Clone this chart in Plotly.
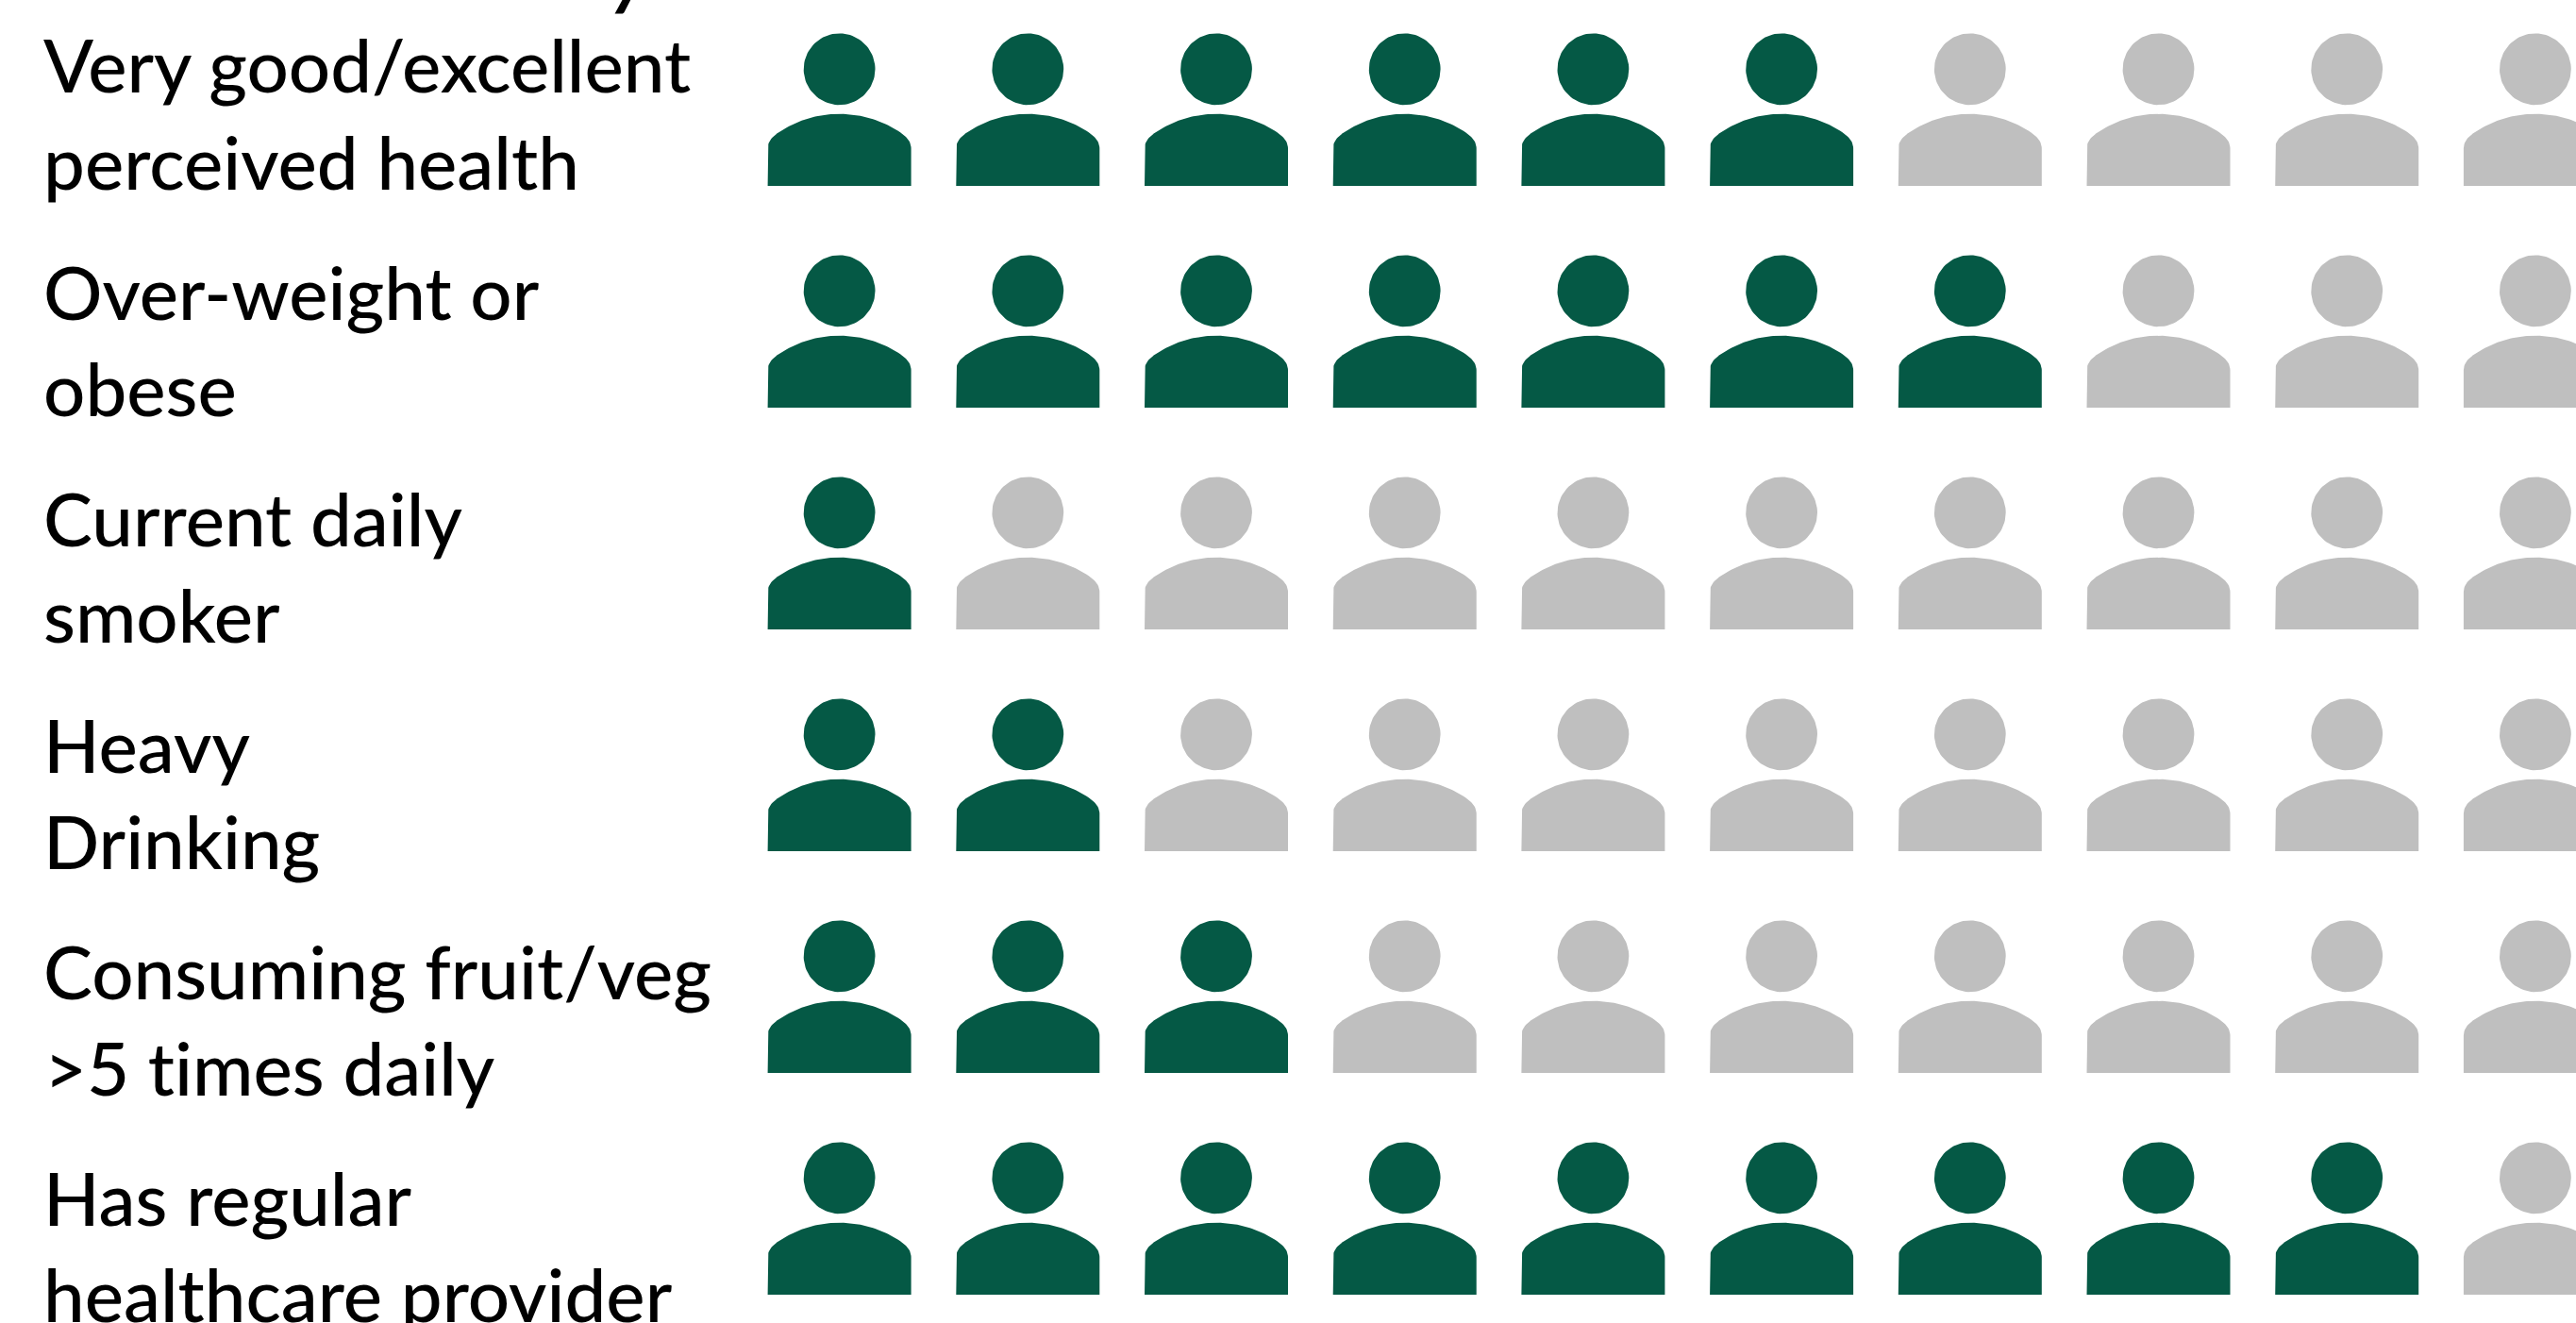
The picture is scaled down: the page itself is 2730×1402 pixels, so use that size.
import numpy as np
import plotly.graph_objects as go

# Data
line1 = ["Very good/excellent", "Over-weight or", "Current daily", "Heavy", "Consuming fruit/veg", "Has regular"]
line2 = ["perceived health", "obese", "smoker", "Drinking", ">5 times daily", "healthcare provider"]
filled_counts = [6, 7, 1, 2, 3, 9]
n_icons = 10

W, H = 2730, 1402
DX, DY = 199.7, 235.0
X0, Y0 = 889.6, 73.3   # pixel centre of first head
LABEL_DY = 240.0
GREEN, GREY = "#055945", "#BFBFBF"
FONT = "Lato"
FS = 78

def head(cx, cy):
    t = np.linspace(0, 2*np.pi, 90)
    return cx + 37.9/DX*np.cos(t), cy + 37.9/DY*np.sin(t)

def body(cx, cy):
    # outline in pixels relative to head centre
    R, top = 116.0, 47.4
    u = np.linspace(-66.7, 66.7, 61)
    px = list(u)
    py = list(top + R - np.sqrt(R*R - u*u))
    # right shoulder: quadratic corner
    for t in np.linspace(0, 1, 12):
        px.append((1-t)**2*66.7 + 2*t*(1-t)*76 + t*t*76)
        py.append((1-t)**2*68.7 + 2*t*(1-t)*75.2 + t*t*84)
    px += [76, -76]; py += [123.7, 123.7]
    for t in np.linspace(1, 0, 12):
        px.append(-((1-t)**2*66.7 + 2*t*(1-t)*76 + t*t*76))
        py.append((1-t)**2*68.7 + 2*t*(1-t)*75.2 + t*t*84)
    return cx + np.array(px)/DX, cy + np.array(py)/DY

xs = {True: [], False: []}
ys = {True: [], False: []}
for r, n in enumerate(filled_counts):
    for c in range(n_icons):
        k = c < n
        for fn in (head, body):
            a, b = fn(c, r)
            xs[k] += list(a) + [None]
            ys[k] += list(b) + [None]

fig = go.Figure()
for k, col, name in ((False, GREY, "Other"), (True, GREEN, "Share")):
    fig.add_trace(go.Scatter(x=xs[k], y=ys[k], mode="lines", fill="toself", fillcolor=col,
                             line=dict(width=0, color=col), hoverinfo="skip", name=name))

for r in range(len(line1)):
    for text, base in ((line1[r], 98), (line2[r], 200)):
        fig.add_annotation(x=44/W, xref="paper", y=(base + LABEL_DY*r - Y0)/DY, yref="y", text=text,
                           showarrow=False, xanchor="left", yanchor="bottom", yshift=-19.5,
                           font=dict(family=FONT, size=FS, color="#000000", weight=500))

# clipped title descender at top edge
fig.add_annotation(x=0.245, xref="paper", y=1.0, yref="paper", text="<b><i>y</i></b>", showarrow=False,
                   xanchor="center", yanchor="bottom", yshift=-20, font=dict(family=FONT, size=FS, color="#000000"))

fig.update_layout(width=W, height=H, margin=dict(l=0, r=0, t=0, b=0), showlegend=False,
                  paper_bgcolor="white", plot_bgcolor="white",
                  xaxis=dict(range=[-X0/DX, (W-X0)/DX], visible=False, fixedrange=True),
                  yaxis=dict(range=[(H-Y0)/DY, -Y0/DY], visible=False, fixedrange=True))
post = ("document.body.style.margin='0';document.body.style.overflow='hidden';"
        "var s=document.createElement('style');"
        "s.textContent='text,tspan{font-variant-ligatures:none !important;font-feature-settings:\"liga\" 0,\"clig\" 0 !important}';"
        "document.head.appendChild(s);")
fig.write_html("out.html", config={"displayModeBar": False}, post_script=post)
